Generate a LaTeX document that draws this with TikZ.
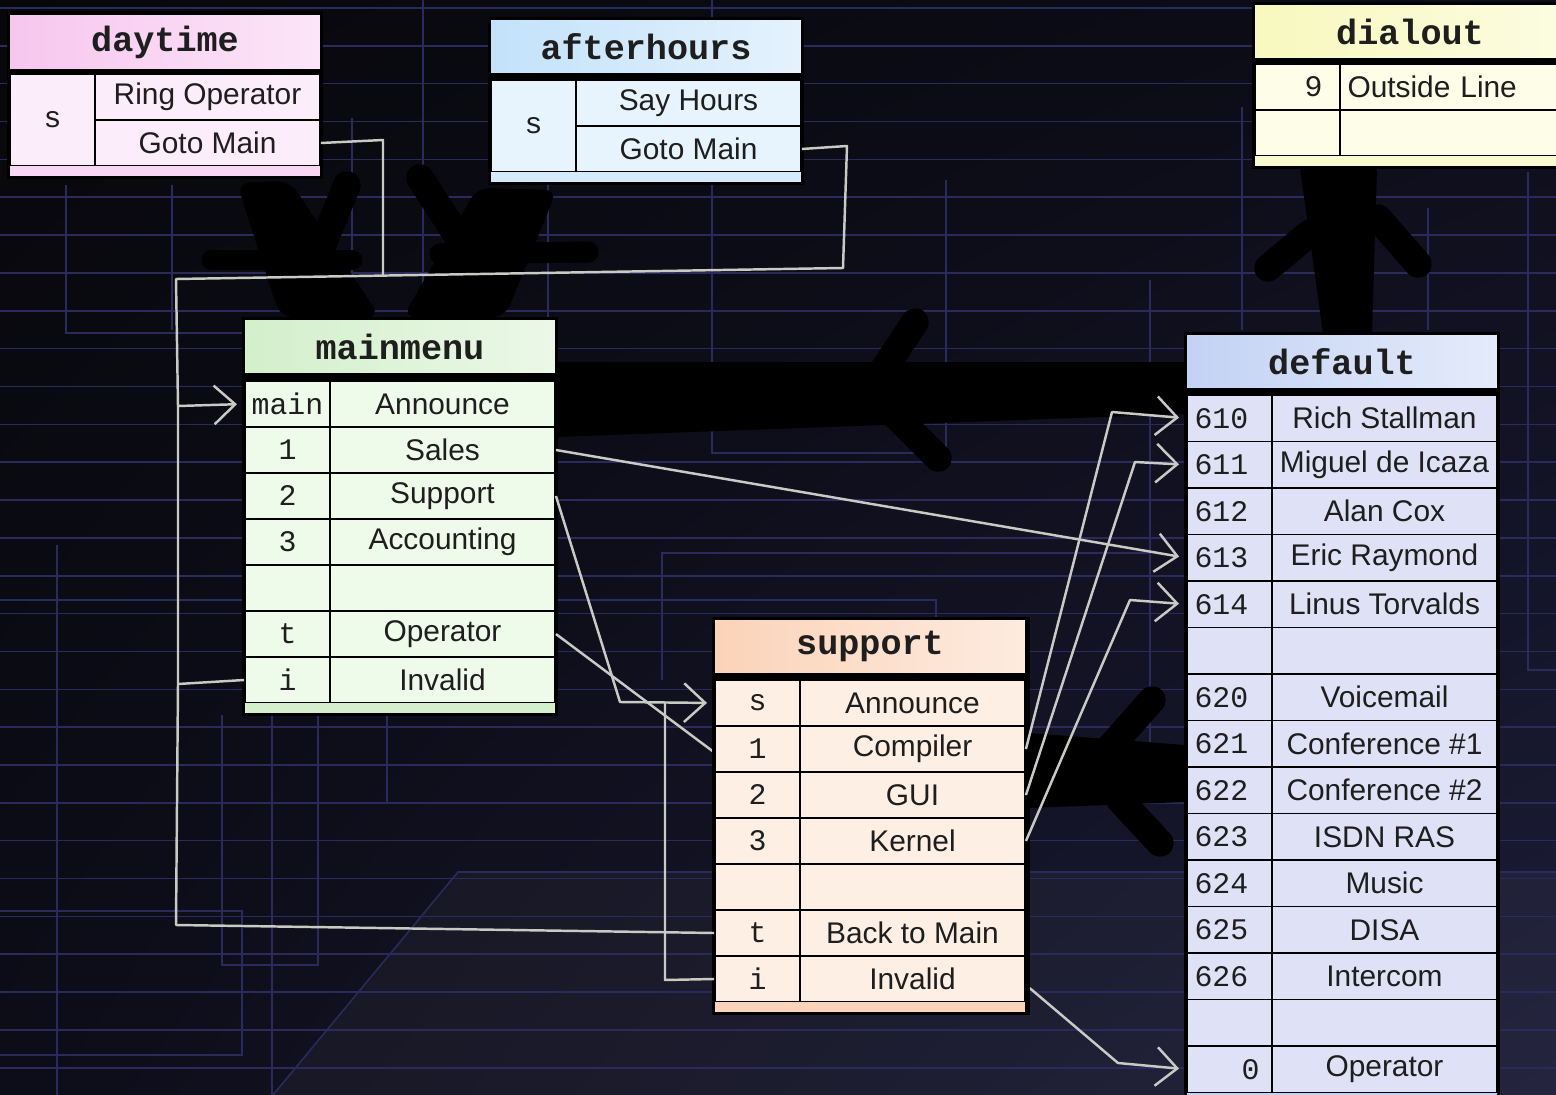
\documentclass[tikz,border=0pt]{standalone}
\usepackage{fontspec}
\setmainfont{Liberation Sans}
\setmonofont{Liberation Mono}
\usetikzlibrary{arrows.meta,shadings}

\definecolor{bgdark}{HTML}{07070B}
\definecolor{bgmid}{HTML}{0D0D19}
\definecolor{bgblue}{HTML}{1C1C38}
\definecolor{gridcol}{HTML}{2A2A5C}
\definecolor{wire}{HTML}{CACAC5}
\definecolor{txt}{HTML}{1E1E1E}
% context colours
\definecolor{dayhd}{HTML}{F7C6EF}
\definecolor{daybody}{HTML}{FCEDFA}
\definecolor{ahhd}{HTML}{C3E2FA}
\definecolor{ahbody}{HTML}{E8F4FD}
\definecolor{dialhd}{HTML}{F8F8BE}
\definecolor{dialbody}{HTML}{FDFDE8}
\definecolor{mmhd}{HTML}{D3EFCB}
\definecolor{mmbody}{HTML}{EFFBEA}
\definecolor{sphd}{HTML}{FBD3B8}
\definecolor{spbody}{HTML}{FDEFE4}
\definecolor{dfhd}{HTML}{C3D2F4}
\definecolor{dfbody}{HTML}{DFE2F6}

\begin{document}
\begin{tikzpicture}[
  x=0.02cm, y=-0.02cm,
  hdcell/.style  = {rectangle, minimum width=6.2cm, minimum height=1.06cm,
                    inner sep=0pt, text=txt,
                    font=\fontsize{20}{24}\selectfont\ttfamily\bfseries},
  cell/.style    = {rectangle, draw=black, line width=1.1pt, inner sep=0pt,
                    minimum height=0.92cm, text=txt},
  keycell/.style = {cell, minimum width=1.7cm,
                    font=\fontsize{17}{20}\selectfont\ttfamily},
  dfkey/.style   = {keycell, minimum height=0.93cm, text width=1.4cm,
                    align=left, fill=dfbody},
  dfval/.style   = {valcell, minimum height=0.93cm, fill=dfbody},
  valcell/.style = {cell, minimum width=4.5cm,
                    font=\fontsize{17}{20}\selectfont},
  footer/.style  = {rectangle, minimum width=6.2cm, minimum height=0.2cm,
                    inner sep=0pt},
  tblframe/.style = {fill=black},
  gridln/.style  = {draw=gridcol, line width=0.9pt},
  link/.style    = {draw=wire, line width=1.4pt, line join=round},
  arr/.style     = {link, -{Straight Barb[length=12pt, width=22pt]},
                    shorten >=4pt},
  ink/.style     = {fill=black},
  inkline/.style = {draw=black, line width=0.55cm, line cap=round},
]
\useasboundingbox (0,0) rectangle (1556,1095);

% background and grid
\shade[upper left=bgdark, upper right=bgmid, lower left=bgmid,
       lower right=bgblue] (0,0) rectangle (1556,1095);
\fill[white, opacity=0.035] (273,1095) -- (458,872) -- (1556,872)
      -- (1556,1095) -- cycle;
\draw[gridln] (273,1095) -- (458,872) -- (1556,872);
\foreach \k in {0,...,28}
  \draw[gridln] (0,{8+37.85*\k}) -- (1556,{8+37.85*\k});
\draw[gridln] (57,545) -- (57,1095);
\draw[gridln] (66,185) -- (66,333) -- (245,333);
\draw[gridln] (172,185) -- (172,330);
\draw[gridln] (352,118) -- (352,275);
\draw[gridln] (423,0) -- (423,330);
\draw[gridln] (548,180) -- (548,320);
\draw[gridln] (712,0) -- (712,453) -- (946,453) -- (946,180);
\draw[gridln] (222,715) -- (222,965) -- (318,965) -- (318,715);
\draw[gridln] (0,911) -- (242,911) -- (242,1055) -- (0,1055);
\draw[gridln] (272,715) -- (272,1095);
\draw[gridln] (387,715) -- (387,803) -- (700,803);
\draw[gridln] (662,680) -- (662,553) -- (1150,553);
\draw[gridln] (0,600) -- (936,600) -- (936,617);
\draw[gridln] (1150,280) -- (1150,743);
\draw[gridln] (1242,107) -- (1242,330);
\draw[gridln] (1428,208) -- (1428,330);
\draw[gridln] (1528,172) -- (1528,670) -- (1556,670);

% hand-drawn include arrows
\fill[ink, rounded corners=0.25cm] (237,183) -- (290,181) -- (380,317)
      -- (280,317) -- cycle;
\draw[inkline] (347,185) -- (317,258);
\draw[inkline, line width=0.42cm] (212,260) -- (352,260);
\fill[ink, rounded corners=0.25cm] (477,188) -- (557,190) -- (505,317)
      -- (403,317) -- cycle;
\draw[inkline] (420,178) -- (462,243);
\draw[inkline, line width=0.42cm] (440,254) -- (588,252);
\fill[ink] (556,362) -- (1185,362) -- (1185,414) -- (556,437) -- cycle;
\draw[inkline] (870,390) -- (915,322);
\draw[inkline] (870,390) -- (938,458);
\fill[ink] (1029,733) -- (1185,745) -- (1185,802) -- (1029,808) -- cycle;
\draw[inkline] (1112,745) -- (1152,700);
\draw[inkline] (1120,800) -- (1160,843);
\fill[ink] (1300,168) -- (1377,168) -- (1372,333) -- (1323,333) -- cycle;
\draw[inkline] (1310,233) -- (1268,268);
\draw[inkline] (1378,218) -- (1418,264);

% daytime
\fill[tblframe] (7,11) rectangle (323,179);
\node[hdcell, left color=dayhd, right color=dayhd!45!white] (dt) at (165,42) {daytime};
\node[keycell, fill=daybody, minimum height=1.84cm] (dt-s) at (52.5,120) {s};
\node[valcell, fill=daybody] (dt-ring) at (207.5,97)  {Ring Operator};
\node[valcell, fill=daybody] (dt-goto) at (207.5,143) {Goto Main};
\node[footer, fill=dayhd!70!white] (dt-foot) at (165,171) {};

% afterhours
\fill[tblframe] (488,17) rectangle (804,185);
\node[hdcell, left color=ahhd, right color=ahhd!45!white] (ah) at (646,46.5) {afterhours};
\node[keycell, fill=ahbody, minimum height=1.84cm] (ah-s) at (533.5,126) {s};
\node[valcell, fill=ahbody] (ah-say)  at (688.5,103) {Say Hours};
\node[valcell, fill=ahbody] (ah-goto) at (688.5,149) {Goto Main};
\node[footer, fill=ahhd!70!white] (ah-foot) at (646,177) {};

% dialout
\fill[tblframe] (1252,2) rectangle (1570,169);
\node[hdcell, left color=dialhd, right color=dialhd!45!white] (dial) at (1410,31.5) {dialout};
\node[keycell, fill=dialbody, text width=1.0cm, align=right] (dial-9) at (1297.5,87) {9};
\node[valcell, fill=dialbody, text width=4.2cm, align=left] (dial-line) at (1452.5,87) {Outside Line};
\node[keycell, fill=dialbody] (dial-k2) at (1297.5,133) {};
\node[valcell, fill=dialbody] (dial-v2) at (1452.5,133) {};
\node[footer, fill=dialhd!70!white] (dial-foot) at (1410,161) {};

% mainmenu
\fill[tblframe] (242,317) rectangle (558,716);
\node[hdcell, left color=mmhd, right color=mmhd!45!white] (mm) at (400,346.5) {mainmenu};
\node[keycell, fill=mmbody] (mm-main) at (287.5,404) {main};
\node[valcell, fill=mmbody] (mm-ann)  at (442.5,404) {Announce};
\node[keycell, fill=mmbody] (mm-k1)   at (287.5,450) {1};
\node[valcell, fill=mmbody] (mm-sales) at (442.5,450) {Sales};
\node[keycell, fill=mmbody] (mm-k2)   at (287.5,496) {2};
\node[valcell, fill=mmbody] (mm-sup)  at (442.5,496) {Support};
\node[keycell, fill=mmbody] (mm-k3)   at (287.5,542) {3};
\node[valcell, fill=mmbody] (mm-acc)  at (442.5,542) {Accounting};
\node[keycell, fill=mmbody] (mm-k4)   at (287.5,588) {};
\node[valcell, fill=mmbody] (mm-v4)   at (442.5,588) {};
\node[keycell, fill=mmbody] (mm-kt)   at (287.5,634) {t};
\node[valcell, fill=mmbody] (mm-op)   at (442.5,634) {Operator};
\node[keycell, fill=mmbody] (mm-ki)   at (287.5,680) {i};
\node[valcell, fill=mmbody] (mm-inv)  at (442.5,680) {Invalid};
\node[footer, fill=mmhd] (mm-foot) at (400,708) {};

% default
\fill[tblframe] (1184,332) rectangle (1500,1100);
\node[hdcell, left color=dfhd, right color=dfhd!45!white] (df) at (1342,361.5) {default};
\node[dfkey] (df-k610)  at (1229.5,418.25)  {610};
\node[dfval] (df-610)   at (1384.5,418.25)  {Rich Stallman};
\node[dfkey] (df-k611)  at (1229.5,464.75)  {611};
\node[dfval] (df-611)   at (1384.5,464.75)  {Miguel de Icaza};
\node[dfkey] (df-k612)  at (1229.5,511.25)  {612};
\node[dfval] (df-612)   at (1384.5,511.25)  {Alan Cox};
\node[dfkey] (df-k613)  at (1229.5,557.75)  {613};
\node[dfval] (df-613)   at (1384.5,557.75)  {Eric Raymond};
\node[dfkey] (df-k614)  at (1229.5,604.25)  {614};
\node[dfval] (df-614)   at (1384.5,604.25)  {Linus Torvalds};
\node[dfkey] (df-kgap1) at (1229.5,650.75)  {};
\node[dfval] (df-gap1)  at (1384.5,650.75)  {};
\node[dfkey] (df-k620)  at (1229.5,697.25)  {620};
\node[dfval] (df-620)   at (1384.5,697.25)  {Voicemail};
\node[dfkey] (df-k621)  at (1229.5,743.75)  {621};
\node[dfval] (df-621)   at (1384.5,743.75)  {Conference \#1};
\node[dfkey] (df-k622)  at (1229.5,790.25)  {622};
\node[dfval] (df-622)   at (1384.5,790.25)  {Conference \#2};
\node[dfkey] (df-k623)  at (1229.5,836.75)  {623};
\node[dfval] (df-623)   at (1384.5,836.75)  {ISDN RAS};
\node[dfkey] (df-k624)  at (1229.5,883.25)  {624};
\node[dfval] (df-624)   at (1384.5,883.25)  {Music};
\node[dfkey] (df-k625)  at (1229.5,929.75)  {625};
\node[dfval] (df-625)   at (1384.5,929.75)  {DISA};
\node[dfkey] (df-k626)  at (1229.5,976.25)  {626};
\node[dfval] (df-626)   at (1384.5,976.25)  {Intercom};
\node[dfkey] (df-kgap2) at (1229.5,1022.75) {};
\node[dfval] (df-gap2)  at (1384.5,1022.75) {};
\node[keycell, fill=dfbody, minimum height=0.93cm, text width=1.2cm, align=right] (df-k0) at (1229.5,1069.25) {0};
\node[dfval] (df-op)    at (1384.5,1069.25) {Operator};
\node[footer, fill=dfhd] (df-foot) at (1342,1097.5) {};

% timeout line runs behind the support table
\draw[arr]  (mm-op.east) -- (1032,990) -- (1118,1063) -- (df-k0.west);

% support
\fill[tblframe] (712,617) rectangle (1030,1015);
\node[hdcell, left color=sphd, right color=sphd!45!white] (sp) at (870,646.5) {support};
\node[keycell, fill=spbody] (sp-ks)  at (757.5,703) {s};
\node[valcell, fill=spbody] (sp-s)   at (912.5,703) {Announce};
\node[keycell, fill=spbody] (sp-k1)  at (757.5,749) {1};
\node[valcell, fill=spbody] (sp-comp) at (912.5,749) {Compiler};
\node[keycell, fill=spbody] (sp-k2)  at (757.5,795) {2};
\node[valcell, fill=spbody] (sp-gui) at (912.5,795) {GUI};
\node[keycell, fill=spbody] (sp-k3)  at (757.5,841) {3};
\node[valcell, fill=spbody] (sp-kern) at (912.5,841) {Kernel};
\node[keycell, fill=spbody] (sp-k4)  at (757.5,887) {};
\node[valcell, fill=spbody] (sp-v4)  at (912.5,887) {};
\node[keycell, fill=spbody] (sp-kt)  at (757.5,933) {t};
\node[valcell, fill=spbody] (sp-back) at (912.5,933) {Back to Main};
\node[keycell, fill=spbody] (sp-ki)  at (757.5,979) {i};
\node[valcell, fill=spbody] (sp-inv) at (912.5,979) {Invalid};
\node[footer, fill=sphd] (sp-foot) at (870,1007) {};

% connectors
\coordinate (bustop) at (176,279);
\coordinate (busin)  at (178,406);
\coordinate (busmid) at (178,684);
\coordinate (busbot) at (176,925);
\coordinate (dtdrop) at (383,276);
\draw[link] (dt-goto.east) -- (383,140) -- (dtdrop);
\draw[arr]  (ah-goto.east) -- (847,146) -- (843,268) -- (bustop) -- (busin) -- (mm-main.west);
\draw[link] (mm-ki.west) -- (busmid);
\draw[link] (sp-kt.west) -- (busbot) -- (busmid) -- (busin);
\draw[arr]  (mm-sales.east) -- (df-k613.west);
\draw[arr]  (mm-sup.east) -- (620,702) -- (sp-ks.west);
\draw[link] (sp-ki.west) -- (665,980) -- (665,702);
\draw[arr]  (sp-comp.east) -- (1112,412) -- (df-k610.west);
\draw[arr]  (sp-gui.east) -- (1135,462) -- (df-k611.west);
\draw[arr]  (sp-kern.east) -- (1130,600) -- (df-k614.west);
\end{tikzpicture}
\end{document}
